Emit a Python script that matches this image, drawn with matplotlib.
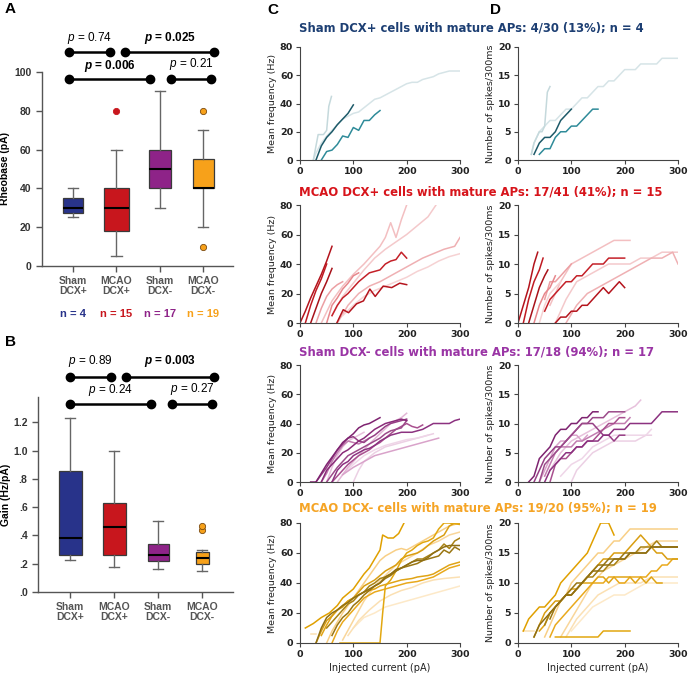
import matplotlib
matplotlib.use('Agg')
import matplotlib.pyplot as plt

plt.rcParams['mathtext.fontset'] = 'custom'
plt.rcParams['mathtext.it'] = 'Liberation Sans:italic'
plt.rcParams['mathtext.bfit'] = 'Liberation Sans:italic:bold'
plt.rcParams['mathtext.rm'] = 'Liberation Sans'

# ---- data: panels A and B (box plots) ----
groups = ['Sham\nDCX+', 'MCAO\nDCX+', 'Sham\nDCX-', 'MCAO\nDCX-']
group_n = ['n = 4', 'n = 15', 'n = 17', 'n = 19']
group_colors = ['#28338a', '#c8161d', '#8e2388', '#f7a11a']

rheo_lo = [25, 5, 30, 20]
rheo_q1 = [27.5, 18, 40, 40]
rheo_med = [30, 30, 50, 40]
rheo_q3 = [35, 40, 60, 55]
rheo_hi = [40, 60, 90, 70]
rheo_out = [[], [80], [], [80, 10]]
rheo_p = ['0.74', '0.025', '0.006', '0.21']
rheo_p_bold = [False, True, True, False]

gain_lo = [0.23, 0.18, 0.16, 0.15]
gain_q1 = [0.26, 0.265, 0.22, 0.20]
gain_med = [0.385, 0.46, 0.26, 0.24]
gain_q3 = [0.855, 0.63, 0.34, 0.28]
gain_hi = [1.23, 1.0, 0.50, 0.30]
gain_out = [[], [], [], [0.44, 0.47]]
gain_p = ['0.89', '0.003', '0.24', '0.27']
gain_p_bold = [False, True, False, False]

# ---- data: panels C and D (current steps, pA -> Hz / spikes) ----
titles = ['Sham DCX+ cells with mature APs: 4/30 (13%); n = 4',
          'MCAO DCX+ cells with mature APs: 17/41 (41%); n = 15',
          'Sham DCX- cells with mature APs: 17/18 (94%); n = 17',
          'MCAO DCX- cells with mature APs: 19/20 (95%); n = 19']
title_colors = ['#1d3f73', '#d7141b', '#9a35a5', '#f5a425']

sham_pos_freq = [
    [(25, 0), (30, 5), (40, 12), (50, 17), (60, 21), (70, 25), (80, 29), (90, 31), (100, 33), (110, 34), (120, 37),
     (130, 40), (140, 43), (150, 44), (160, 46), (170, 48), (180, 50), (190, 52), (200, 54), (210, 55), (220, 55),
     (230, 57), (240, 58), (250, 59), (260, 61), (270, 62), (280, 63), (300, 63)],
    [(25, 0), (34, 18), (44, 18), (50, 21), (54, 38), (59, 45)],
    [(30, 0), (40, 10), (50, 16), (60, 20), (70, 25), (80, 29), (90, 33), (100, 39)],
    [(40, 0), (50, 6), (60, 7), (70, 11), (80, 17), (90, 16), (100, 23), (110, 21), (120, 28), (130, 28), (140, 32),
     (150, 35)],
]
sham_pos_spk = [
    [(25, 1), (30, 3), (40, 5), (50, 6), (60, 7), (70, 7), (80, 8), (90, 9), (100, 9), (110, 10), (120, 11), (130, 11),
     (140, 12), (150, 13), (160, 13), (170, 14), (180, 14), (190, 15), (200, 16), (220, 16), (230, 17), (260, 17),
     (270, 18), (300, 18)],
    [(25, 1), (30, 3), (35, 4), (40, 5), (45, 5), (50, 6), (55, 12), (60, 13)],
    [(30, 1), (40, 3), (50, 4), (60, 4), (70, 5), (80, 7), (90, 8), (100, 9)],
    [(40, 1), (50, 2), (60, 2), (70, 4), (80, 5), (90, 5), (100, 6), (110, 6), (120, 7), (130, 8), (140, 9), (150, 9)],
]
sham_pos_cols = ['#d6e4e7', '#c5d9dc', '#1d5a69', '#2f8b99']

mcao_pos_freq = [
    [(40, 0), (60, 15), (80, 25), (100, 33), (120, 40), (140, 48), (150, 52), (160, 58), (170, 68), (180, 58),
     (190, 70), (200, 80)],
    [(60, 5), (80, 18), (100, 27), (120, 36), (140, 44), (160, 50), (180, 55), (200, 60), (220, 66), (240, 72),
     (255, 80)],
    [(70, 0), (90, 12), (110, 20), (130, 25), (150, 28), (170, 32), (190, 36), (210, 40), (230, 44), (250, 47),
     (270, 50), (290, 52), (300, 58)],
    [(80, 5), (100, 12), (120, 18), (140, 22), (160, 25), (180, 28), (200, 31), (220, 35), (240, 38), (260, 42),
     (280, 45), (300, 47)],
    [(30, 0), (40, 10), (50, 18), (60, 23), (70, 26), (80, 28)],
    [(50, 0), (60, 12), (70, 17), (80, 23), (90, 27), (100, 32), (110, 34)],
    [(0, 0), (10, 8), (20, 17), (30, 25), (40, 33), (50, 42), (60, 52)],
    [(10, 0), (20, 12), (30, 22), (40, 30), (50, 40)],
    [(20, 0), (30, 10), (40, 20), (50, 28), (60, 37)],
    [(69, 0), (81, 9), (91, 7), (106, 13), (119, 15), (131, 23), (141, 18), (156, 25), (172, 24), (187, 27), (200, 26)],
    [(60, 5), (70, 12), (80, 17), (90, 20), (100, 24), (110, 28), (120, 31), (130, 34), (140, 35), (150, 36),
     (160, 40), (170, 42), (180, 43), (190, 48), (200, 44)],
]
mcao_pos_spk = [
    [(60, 3), (80, 7), (100, 10), (120, 11), (140, 12), (160, 13), (180, 14), (210, 14)],
    [(70, 0), (90, 4), (110, 7), (130, 8), (150, 9), (170, 10), (190, 10), (210, 10), (230, 11), (250, 11), (270, 12),
     (300, 12)],
    [(90, 0), (110, 3), (130, 5), (150, 6), (170, 7), (190, 8), (210, 9), (230, 10), (250, 11), (270, 11), (290, 12),
     (300, 10)],
    [(40, 0), (50, 3), (60, 5), (70, 6), (80, 7)],
    [(50, 4), (60, 7), (70, 7), (80, 8), (90, 9), (100, 10)],
    [(30, 0), (40, 3), (50, 5), (60, 6), (70, 8)],
    [(0, 0), (10, 3), (20, 6), (30, 10), (37, 12)],
    [(10, 0), (20, 4), (30, 7), (40, 9), (47, 11)],
    [(20, 0), (30, 3), (40, 6), (50, 8), (56, 9)],
    [(70, 0), (80, 1), (90, 1), (100, 2), (110, 2), (120, 3), (130, 3), (140, 4), (150, 5), (160, 6), (170, 5),
     (180, 6), (190, 7), (200, 6)],
    [(50, 2), (60, 4), (70, 5), (80, 6), (90, 7), (100, 7), (110, 8), (120, 8), (130, 9), (140, 10), (160, 10),
     (170, 11), (200, 11)],
]
mcao_pos_cols = ['#f3bfc1', '#f4c9cb', '#efb0b3', '#f6d2d3', '#ec9fa3', '#e7878c',
                 '#b3131c', '#c01a22', '#a8121a', '#b5141d', '#c42028']

sham_neg_freq = [
    [(100, 0), (110, 8), (120, 14), (140, 20), (160, 24), (180, 26), (200, 28), (220, 30), (240, 32), (250, 33)],
    [(50, 0), (60, 10), (70, 18), (80, 24), (90, 28), (100, 30), (110, 32), (120, 34)],
    [(80, 5), (100, 12), (120, 18), (140, 22), (160, 25), (180, 27), (200, 29), (220, 30), (240, 32)],
    [(70, 0), (90, 10), (110, 18), (130, 26), (150, 33), (170, 40), (190, 44), (200, 47)],
    [(80, 5), (100, 10), (120, 14), (140, 18), (160, 20), (180, 22), (200, 24), (220, 26), (240, 28), (260, 30)],
    [(40, 0), (50, 6), (60, 14), (70, 20), (80, 25), (90, 28), (100, 27), (110, 26), (120, 28), (130, 30)],
    [(60, 0), (70, 4), (80, 8), (90, 12), (100, 15), (110, 18), (120, 20), (130, 22), (140, 25), (150, 27), (160, 30),
     (170, 33), (180, 36), (190, 38), (200, 40), (210, 38), (220, 37), (230, 39)],
    [(30, 0), (40, 5), (50, 10), (60, 16), (70, 22), (80, 26), (90, 30), (100, 31), (110, 28), (120, 27), (130, 30),
     (140, 32), (150, 35), (160, 38), (170, 40), (180, 41), (190, 42), (200, 43)],
    [(50, 0), (60, 5), (70, 10), (80, 14), (90, 18), (100, 20), (110, 22), (120, 24), (130, 26), (140, 28), (150, 30),
     (160, 33), (170, 35), (180, 36), (190, 37), (200, 42)],
    [(40, 0), (50, 8), (60, 12), (70, 16), (80, 20), (90, 22), (100, 25), (110, 28), (120, 30), (130, 33), (140, 36),
     (150, 38), (160, 40), (170, 41), (180, 42), (190, 43), (200, 42)],
    [(20, 0), (30, 0), (40, 6), (50, 12), (60, 17), (70, 22), (80, 27), (90, 30), (100, 33), (110, 37), (120, 39),
     (130, 40), (140, 42), (150, 44)],
    [(60, 0), (70, 8), (80, 12), (90, 14), (100, 18), (110, 20), (120, 22), (130, 23), (140, 25), (150, 28), (160, 30),
     (170, 32), (180, 33), (190, 34), (210, 34), (220, 35), (230, 36), (240, 38), (250, 40), (280, 40), (290, 42),
     (300, 43)],
]
sham_neg_spk = [
    [(100, 0), (110, 2), (120, 3), (140, 5), (160, 6), (180, 7), (220, 7), (240, 8), (250, 8)],
    [(60, 2), (80, 5), (100, 7), (120, 8), (140, 9), (160, 10), (180, 11), (200, 12), (220, 13), (230, 14)],
    [(80, 1), (100, 3), (120, 4), (140, 6), (160, 7), (180, 8), (240, 8), (250, 9)],
    [(40, 0), (50, 2), (60, 4), (70, 6), (80, 7), (90, 7), (100, 8), (110, 8), (120, 7), (130, 8)],
    [(50, 1), (60, 3), (70, 5), (80, 6), (100, 6), (110, 7), (120, 7), (140, 8), (160, 9), (180, 10), (200, 10),
     (210, 11)],
    [(60, 0), (70, 3), (80, 4), (90, 4), (100, 5), (110, 6), (120, 6), (130, 7), (140, 7), (150, 8), (160, 9),
     (170, 10), (180, 10), (190, 11), (200, 11)],
    [(30, 0), (40, 2), (50, 4), (60, 5), (70, 6), (80, 6), (90, 7), (100, 8), (110, 9), (120, 10), (140, 10),
     (150, 9), (160, 8), (170, 8), (180, 7), (190, 8), (200, 8)],
    [(40, 0), (50, 3), (60, 4), (70, 5), (80, 6), (90, 7), (100, 8), (110, 9), (120, 10), (130, 10), (140, 11),
     (160, 11), (170, 12), (200, 12)],
    [(20, 0), (30, 1), (40, 4), (50, 5), (60, 6), (70, 8), (80, 9), (90, 9), (100, 10), (110, 10), (120, 11),
     (130, 11), (140, 12), (150, 12)],
    [(50, 0), (60, 2), (70, 3), (80, 4), (90, 5), (100, 5), (110, 6), (120, 6), (130, 7), (150, 7), (160, 8),
     (170, 8), (180, 9), (200, 9), (210, 10), (250, 10), (260, 11), (270, 12), (300, 12)],
]
sham_neg_freq_cols = ['#ecd0e4', '#e7c1dc', '#efd6e8', '#e3b7d6', '#d9a3ca', '#c27cb0', '#a9508f', '#963f85',
                      '#9c4a8a', '#8a2c79', '#7e2370', '#8c3280']
sham_neg_spk_cols = ['#ecd0e4', '#e7c1dc', '#efd6e8', '#d9a3ca', '#c27cb0', '#a9508f', '#963f85', '#9c4a8a',
                     '#7e2370', '#8c3280']

mcao_neg_freq = [
    [(100, 10), (120, 17), (140, 20), (160, 24), (180, 26), (200, 28), (220, 30), (240, 32), (260, 34), (280, 36),
     (300, 38)],
    [(90, 5), (110, 15), (130, 22), (150, 28), (170, 32), (190, 35), (210, 37), (230, 40), (250, 42), (270, 43),
     (300, 44)],
    [(80, 2), (100, 15), (120, 28), (140, 38), (160, 45), (180, 52), (200, 56), (220, 60), (240, 65), (260, 68),
     (280, 72), (300, 74)],
    [(50, 0), (60, 8), (70, 14), (80, 20), (90, 25), (100, 30), (110, 35), (120, 40), (130, 45), (140, 50), (150, 55),
     (160, 58), (170, 60), (180, 62), (190, 63), (200, 62), (210, 64), (220, 66), (230, 68), (240, 70), (250, 72),
     (260, 74), (270, 76), (280, 78), (290, 79), (300, 80)],
    [(20, 6), (30, 6)],
    [(60, 0), (70, 8), (80, 14), (90, 18), (100, 22), (110, 26), (120, 30), (130, 32), (140, 34), (150, 35), (160, 36),
     (170, 37), (180, 38), (190, 39), (200, 40), (220, 41), (230, 42), (240, 43), (250, 44), (260, 46), (270, 48),
     (280, 50), (290, 51), (300, 52)],
    [(40, 5), (50, 12), (60, 18), (70, 22), (80, 25), (90, 28), (100, 30), (110, 32), (120, 34), (130, 35), (140, 36),
     (150, 38), (160, 39), (170, 40), (180, 41), (190, 42), (210, 43), (220, 44), (240, 45), (250, 46), (260, 48),
     (270, 50), (280, 52), (290, 53), (300, 54)],
    [(30, 0), (40, 8), (50, 15), (60, 18), (70, 22), (80, 24), (90, 28), (100, 30), (110, 34), (120, 38), (130, 40),
     (140, 42), (150, 45), (160, 48), (170, 50), (180, 52), (190, 56), (200, 58), (220, 60), (230, 62), (240, 65),
     (250, 68), (260, 70), (270, 72), (280, 78), (290, 80), (300, 80)],
    [(75, 0), (100, 0), (150, 0), (155, 20), (160, 38), (170, 42), (180, 48), (190, 55), (200, 60), (210, 62),
     (220, 65), (230, 67), (240, 68), (250, 70), (260, 76), (270, 80), (280, 80), (300, 79)],
    [(10, 10), (25, 13), (40, 17), (55, 20), (70, 25), (80, 30), (90, 33), (100, 36), (110, 41), (120, 46), (130, 50),
     (140, 56), (150, 62), (155, 72), (165, 70), (175, 70), (185, 73), (195, 80)],
    [(50, 10), (60, 14), (70, 18), (80, 22), (90, 26), (100, 28), (110, 32), (120, 34), (130, 38), (140, 40), (150, 43),
     (160, 44), (170, 46), (180, 48), (190, 50), (200, 52), (210, 54), (220, 56), (230, 56), (240, 58), (250, 60),
     (260, 62), (270, 66), (280, 63), (290, 68), (300, 70)],
    [(60, 5), (70, 12), (80, 17), (90, 20), (100, 25), (110, 28), (120, 32), (130, 35), (140, 38), (150, 40), (160, 43),
     (170, 45), (180, 48), (190, 50), (200, 51), (210, 52), (220, 53), (230, 55), (240, 56), (250, 57), (260, 58),
     (270, 62), (280, 60), (290, 64), (300, 62)],
    [(30, 0), (40, 10), (50, 17), (60, 20), (70, 22), (80, 25), (90, 27), (100, 30), (110, 32), (120, 34), (130, 36),
     (140, 38), (150, 40), (160, 44), (170, 46), (180, 49), (190, 50), (200, 52), (210, 54), (220, 55), (230, 55),
     (240, 57), (250, 60), (260, 62), (270, 64), (280, 65), (300, 65)],
]
mcao_neg_spk = [
    [(100, 2), (120, 4), (140, 6), (160, 7), (180, 8), (200, 8), (220, 9), (240, 10), (300, 10)],
    [(90, 1), (110, 4), (130, 6), (150, 8), (170, 9), (190, 10), (230, 10), (250, 11), (300, 11)],
    [(80, 1), (100, 4), (120, 7), (140, 10), (160, 12), (180, 13), (200, 14), (220, 15), (240, 16), (260, 17),
     (300, 17)],
    [(50, 1), (60, 3), (70, 5), (80, 7), (90, 8), (100, 10), (110, 11), (120, 12), (130, 13), (140, 14), (150, 15),
     (160, 15), (170, 16), (180, 17), (190, 17), (200, 18), (210, 19), (300, 19)],
    [(10, 2), (30, 2)],
    [(60, 1), (70, 3), (80, 4), (90, 5), (100, 6), (110, 7), (120, 8), (130, 9), (140, 10), (160, 10), (170, 11),
     (180, 11), (190, 10), (200, 10), (210, 11), (240, 11), (250, 12), (260, 12), (270, 13), (280, 13), (290, 14),
     (300, 14)],
    [(40, 2), (50, 3), (60, 5), (70, 6), (80, 7), (90, 8), (100, 9), (110, 9), (120, 10), (140, 10), (150, 11),
     (160, 11), (170, 10), (180, 11), (210, 11), (220, 10), (230, 11), (240, 10), (250, 11), (260, 10), (270, 10)],
    [(30, 1), (40, 3), (50, 5), (60, 6), (70, 7), (80, 7), (90, 8), (100, 8), (110, 9), (120, 10), (130, 11),
     (140, 12), (150, 13), (160, 14), (170, 14), (180, 15), (200, 15), (210, 16), (220, 17), (230, 18), (240, 17),
     (250, 16), (260, 15), (270, 15), (280, 14), (300, 14)],
    [(70, 1), (100, 1), (150, 1), (160, 2), (210, 2)],
    [(10, 2), (20, 4), (30, 5), (40, 6), (50, 6), (60, 7), (70, 8), (80, 10), (90, 11), (100, 12), (110, 13),
     (120, 14), (130, 15), (140, 17), (150, 19), (155, 20), (170, 20), (180, 18)],
    [(50, 3), (60, 5), (70, 6), (80, 7), (90, 8), (100, 8), (110, 9), (120, 10), (130, 11), (140, 11), (150, 12),
     (160, 12), (170, 13), (180, 13), (190, 14), (200, 14), (210, 15), (220, 15), (230, 16), (250, 16), (260, 17),
     (270, 16), (300, 16)],
    [(60, 4), (70, 6), (80, 7), (90, 8), (100, 9), (110, 10), (120, 10), (130, 11), (140, 12), (150, 13), (160, 13),
     (170, 14), (190, 14), (200, 15), (240, 15), (250, 16), (300, 16)],
    [(30, 1), (40, 3), (50, 4), (60, 5), (70, 6), (80, 7), (90, 8), (100, 8), (110, 9), (120, 10), (130, 11),
     (140, 12), (150, 12), (160, 13), (170, 13), (180, 14), (200, 14), (210, 15), (240, 15), (250, 16), (300, 16)],
]
mcao_neg_cols = ['#fde9c8', '#fbe0b3', '#f9d69a', '#f8cf86', '#fbe0b3', '#e9a91c', '#e0a415', '#d99e12',
                 '#e2a710', '#e0a000', '#a88214', '#9a7612', '#8f6f14']

W, H = 688, 674
fig = plt.figure(figsize=(W / 100, H / 100), dpi=100)


def px_axes(l, r, t, b):
    return fig.add_axes([l / W, 1 - b / H, (r - l) / W, (b - t) / H])


def box_panel(ax, lo, q1, med, q3, hi, out, widths):
    stats = []
    for i in range(4):
        stats.append(dict(whislo=lo[i], q1=q1[i], med=med[i], q3=q3[i], whishi=hi[i], fliers=out[i]))
    bp = ax.bxp(stats, positions=[1, 2, 3, 4], widths=widths, capwidths=0.24, patch_artist=True,
                boxprops=dict(edgecolor='#3a3a3a', linewidth=0.9),
                medianprops=dict(color='black', linewidth=1.5),
                whiskerprops=dict(color='#666666', linewidth=1.0),
                capprops=dict(color='#666666', linewidth=1.0))
    for patch, c in zip(bp['boxes'], group_colors):
        patch.set_facecolor(c)
    for fl, c in zip(bp['fliers'], group_colors):
        fl.set(marker='o', markerfacecolor=c, markeredgecolor='#7a4a10' if c == '#f7a11a' else c,
               markersize=4.5, markeredgewidth=0.6)
    for s in ['top', 'right']:
        ax.spines[s].set_visible(False)
    for s in ['left', 'bottom']:
        ax.spines[s].set_color('#555555')
        ax.spines[s].set_linewidth(1.0)
    ax.set_xticks([1, 2, 3, 4])
    ax.set_xticklabels(groups, fontsize=7.5, fontweight='bold', color='#333333', linespacing=1.0,
                       family='Liberation Sans')
    ax.tick_params(axis='both', colors='#555555', length=4, width=1.0)
    for lab in ax.get_yticklabels():
        lab.set_fontweight('bold')
        lab.set_fontsize(7.5)
        lab.set_color('#333333')
        lab.set_family('Liberation Sans')


def brackets(ax, ends, ys, labels, bolds, label_ys):
    for (x1, x2), y, lab, b, ly in zip(ends, ys, labels, bolds, label_ys):
        ax.plot([x1, x2], [y, y], color='black', lw=1.8, marker='o', markersize=6, clip_on=False)
        txt = (r'$\mathbfit{p}$' + ' = ' + lab) if b else (r'$\mathit{p}$' + ' = ' + lab)
        ax.text((x1 + x2) / 2, ly, txt, ha='center', va='bottom', fontsize=8.5,
                fontweight='bold' if b else 'normal', family='Liberation Sans', clip_on=False)


# ---- panel A ----
axA = px_axes(42, 233, 72, 266)
box_panel(axA, rheo_lo, rheo_q1, rheo_med, rheo_q3, rheo_hi, rheo_out, [0.46, 0.58, 0.5, 0.48])
axA.set_xlim(0.28, 4.69)
axA.set_ylim(0, 100)
axA.set_yticks([0, 20, 40, 60, 80, 100])
axA.set_yticklabels(['0', '20', '40', '60', '80', '100'])
axA.set_ylabel('Rheobase (pA)', fontsize=7.5, fontweight='bold', family='Liberation Sans')
axA.yaxis.set_label_coords(-0.168, 0.5)
brackets(axA, [(0.91, 1.85), (2.2, 4.26), (0.91, 2.78), (3.26, 4.19)], [110.3, 110.3, 96.4, 96.4],
         rheo_p, rheo_p_bold, [113.5, 113.5, 99.0, 100.0])
for i, (n, c) in enumerate(zip(group_n, group_colors)):
    axA.text(i + 1, -0.245, n, transform=axA.get_xaxis_transform(), ha='center', va='center', color=c,
             fontsize=8, fontweight='bold', family='Liberation Sans')

# ---- panel B ----
axB = px_axes(38, 233, 397, 592)
box_panel(axB, gain_lo, gain_q1, gain_med, gain_q3, gain_hi, gain_out, [0.52, 0.52, 0.48, 0.3])
axB.set_xlim(0.27, 4.7)
axB.set_ylim(0, 1.38)
axB.set_yticks([0, 0.2, 0.4, 0.6, 0.8, 1.0, 1.2])
axB.set_yticklabels(['.0', '.2', '.4', '.6', '.8', '1.0', '1.2'])
axB.set_ylabel('Gain (Hz/pA)', fontsize=7.5, fontweight='bold', family='Liberation Sans')
axB.yaxis.set_label_coords(-0.14, 0.5)
brackets(axB, [(1.0, 1.93), (2.27, 4.27), (1.0, 2.84), (3.32, 4.22)], [1.525, 1.525, 1.333, 1.333],
         gain_p, gain_p_bold, [1.575, 1.575, 1.37, 1.38])


# ---- panels C and D ----
def trace_panel(ax, traces, colors, ymax, yticks, xlabel=False):
    for tr, c in zip(traces, colors):
        ax.plot([p[0] for p in tr], [p[1] for p in tr], color=c, lw=1.1)
    ax.set_xlim(0, 300)
    ax.set_ylim(0, ymax)
    ax.set_xticks([0, 100, 200, 300])
    ax.set_yticks(yticks)
    for s in ['top', 'right']:
        ax.spines[s].set_visible(False)
    for s in ['left', 'bottom']:
        ax.spines[s].set_color('#444444')
        ax.spines[s].set_linewidth(0.8)
    ax.tick_params(axis='both', colors='#444444', length=3, width=0.8, pad=2)
    for lab in ax.get_xticklabels() + ax.get_yticklabels():
        lab.set_fontweight('bold')
        lab.set_fontsize(6.8)
        lab.set_color('#222222')
    if xlabel:
        ax.set_xlabel('Injected current (pA)', fontsize=7, color='#222222')
        ax.xaxis.set_label_coords(0.5, -0.165)


rows = [(47, 160), (205, 323), (365, 482), (523, 643)]
title_ys = [28, 192, 352, 508]
freq_sets = [(sham_pos_freq, sham_pos_cols), (mcao_pos_freq, mcao_pos_cols),
             (sham_neg_freq, sham_neg_freq_cols), (mcao_neg_freq, mcao_neg_cols)]
spk_sets = [(sham_pos_spk, sham_pos_cols), (mcao_pos_spk, mcao_pos_cols),
            (sham_neg_spk, sham_neg_spk_cols), (mcao_neg_spk, mcao_neg_cols)]

for r, (t, b) in enumerate(rows):
    last = r == 3
    axC = px_axes(300, 460, t, b)
    trace_panel(axC, freq_sets[r][0], freq_sets[r][1], 80, [0, 20, 40, 60, 80], last)
    axC.set_ylabel('Mean frequency (Hz)', fontsize=6.8, color='#222222')
    axC.yaxis.set_label_coords(-0.145, 0.5)
    axD = px_axes(518, 678, t, b)
    trace_panel(axD, spk_sets[r][0], spk_sets[r][1], 20, [0, 5, 10, 15, 20], last)
    axD.set_ylabel('Number of spikes/300ms', fontsize=6.8, color='#222222')
    axD.yaxis.set_label_coords(-0.145, 0.5)
    fig.text(299 / W, 1 - title_ys[r] / H, titles[r], ha='left', va='center', color=title_colors[r],
             fontsize=8.4, fontweight='bold')

# panel letters
for letter, x, y in [('A', 5, 9), ('B', 5, 342), ('C', 267, 10), ('D', 490, 10)]:
    fig.text(x / W, 1 - y / H, letter, ha='left', va='center', fontsize=11, fontweight='bold',
             family='Liberation Sans')

fig.savefig('out.png', dpi=100)
